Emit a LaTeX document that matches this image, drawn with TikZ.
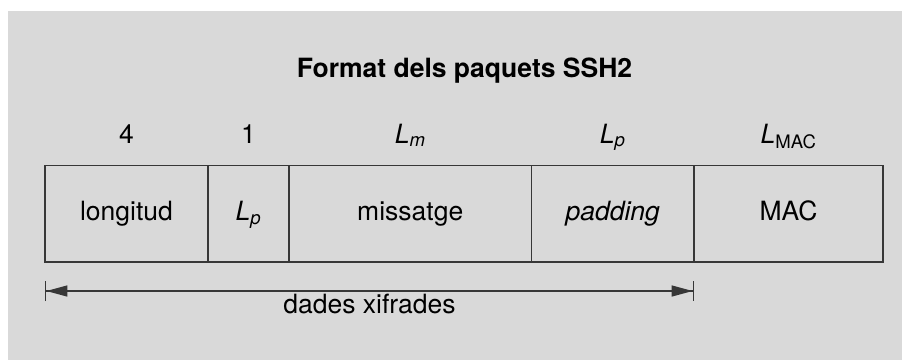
\documentclass[tikz,border=0pt]{standalone}
\usepackage{fontspec}
\setmainfont{TeX Gyre Heros}
\usepackage{tikz}
\usetikzlibrary{positioning}
\usetikzlibrary{arrows.meta}
\usepackage{color}
\definecolor{Bg-Gray}{RGB}{217,217,217}
\definecolor{Line-Gray}{RGB}{55,55,55}

\begin{document}
\begin{tikzpicture}[x=1pt, y=-1pt]
    \tikzset{ fld/.style ={draw=Line-Gray, line width=1.4pt, outer sep=0pt, minimum height=96.5pt, text height=19pt, text depth=5.8pt, inner sep=0pt} }
    \tikzset{ lbl/.style ={anchor=base, inner sep=0pt} }
    \tikzset{ dim/.style ={draw=Line-Gray, line width=1.4pt, {Bar[width=20pt,line width=1.4pt]Triangle[length=21pt,width=11pt]}-{Triangle[length=21pt,width=11pt]Bar[width=20pt,line width=1.4pt]}} }

    \useasboundingbox (0,0) rectangle (902,360);
    \fill[Bg-Gray] (8,11) rectangle (902,360);
    \fontsize{26.5}{31}\selectfont

    \node[lbl, font=\bfseries] (title) at (464.5,77) {Format dels paquets SSH2};

    \node[fld, minimum width=163pt, anchor=north west] (f1) at (45,165.5) {longitud};
    \node[fld, right=0pt of f1, minimum width=81pt ] (f2) {\textit{L}\textsubscript{\textit{p}}};
    \node[fld, right=0pt of f2, minimum width=242.5pt] (f3) {missatge};
    \node[fld, right=0pt of f3, minimum width=162.5pt] (f4) {\textit{padding}};
    \node[fld, right=0pt of f4, minimum width=189pt] (f5) {MAC};

    \node[lbl] (s1) at ([yshift=22.5pt]f1.north) {4};
    \node[lbl] (s2) at ([yshift=22.5pt]f2.north) {1};
    \node[lbl] (s3) at ([yshift=22.5pt]f3.north) {\textit{L}\textsubscript{\textit{m}}};
    \node[lbl] (s4) at ([yshift=22.5pt]f4.north) {\textit{L}\textsubscript{\textit{p}}};
    \node[lbl] (s5) at ([yshift=22.5pt]f5.north) {\textit{L}\textsubscript{MAC}};

    \coordinate (d1) at ([yshift=-29pt]f1.south west);
    \coordinate (d2) at ([yshift=-29pt]f4.south east);
    \draw[dim] (d1) -- (d2) node[lbl, midway, yshift=-22pt] (enc) {dades xifrades};
\end{tikzpicture}
\end{document}
